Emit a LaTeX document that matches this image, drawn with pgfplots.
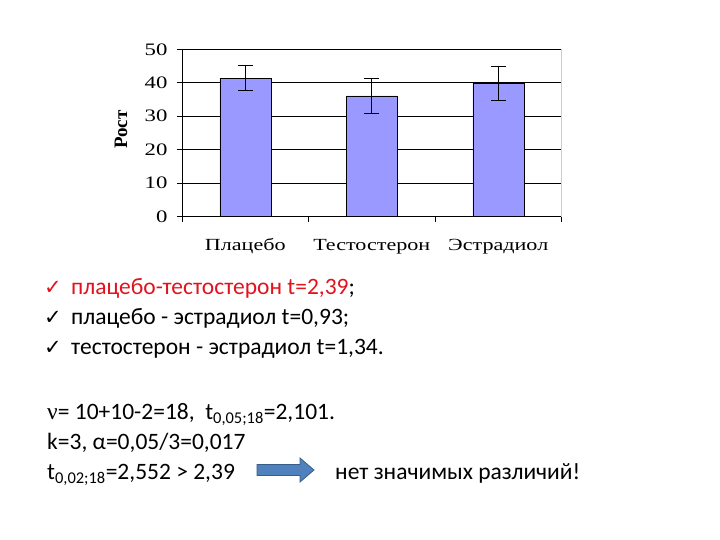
\documentclass[border=0pt]{standalone}
\usepackage{fontspec}
\setmainfont{Carlito}
\newfontfamily\tnr[FakeStretch=1.3]{Liberation Serif}
\newfontfamily\tnrb{Liberation Serif Bold}
\newfontfamily\tnrsym{Liberation Serif}
\newfontfamily\dejavu{DejaVu Sans}
\usepackage{pgfplots}
\pgfplotsset{compat=1.18}
\definecolor{barfill}{HTML}{9999FF}
\definecolor{txtred}{HTML}{E0141E}
\definecolor{arrowfill}{HTML}{4F81BD}
\definecolor{arrowline}{HTML}{385D8A}

\begin{document}
\begin{tikzpicture}[x=1pt,y=1pt]
\useasboundingbox (0pt,0pt) rectangle (720pt,540pt);
\fill[white] (0pt,0pt) rectangle (720pt,540pt);

\begin{axis}[
    at={(182pt,323.3pt)}, anchor=south west,
    scale only axis, width=379.5pt, height=167.4pt,
    xmin=-0.5, xmax=2.5, ymin=0, ymax=50,
    ytick={0,10,...,50},
    xtick={-0.5,0.5,1.5,2.5}, xticklabels={},
    extra x ticks={0,1,2},
    extra x tick labels={Плацебо,Тестостерон,Эстрадиол},
    extra x tick style={major tick length=0pt,
        ticklabel style={font=\tnr\fontsize{17}{20}\selectfont,
            text height=12pt, text depth=4pt, yshift=-18pt}},
    ymajorgrids, grid style={black, line width=0.6pt},
    axis x line*=bottom, axis y line*=left,
    axis line style={black, line width=0.6pt},
    tick style={black, line width=0.6pt},
    major tick length=5pt,
    xtick pos=bottom, ytick pos=left,
    tick align=outside,
    yticklabel style={font=\tnr\fontsize{17.5}{20}\selectfont, xshift=-6pt},
    /pgf/number format/assume math mode=true,
    clip=false,
]
\draw[gray!40] (axis cs:2.5,0) -- (axis cs:2.5,50);
\addplot[ybar, bar width=51pt, fill=barfill, draw=black, line width=0.5pt,
    error bars/.cd, y dir=both, y explicit,
    error bar style={black, line width=0.6pt},
    error mark options={rotate=90, mark size=7.5pt, black, line width=0.6pt}]
    coordinates {(0,41.4) +- (0,3.7) (1,36.1) +- (0,5.3) (2,39.9) +- (0,5.0)};
\node[rotate=90, inner sep=0pt, font=\tnrb\fontsize{19}{22}\selectfont]
    at (axis description cs:-0.161,0.52) {Рост};
\end{axis}

% text below the chart
\begin{scope}[every node/.style={anchor=base west, inner sep=0pt, font=\fontsize{23.5}{28}\selectfont}]
\node at (44pt,245pt) {\dejavu\bfseries\fontsize{21}{24}\selectfont\textcolor{txtred}{✓}};
\node at (71pt,245pt) {\textcolor{txtred}{плацебо-тестостерон t=2,39};};
\node at (44pt,215pt) {\dejavu\bfseries\fontsize{21}{24}\selectfont ✓};
\node at (71pt,215pt) {плацебо - эстрадиол t=0,93;};
\node at (44pt,185pt) {\dejavu\bfseries\fontsize{21}{24}\selectfont ✓};
\node at (71pt,185pt) {тестостерон - эстрадиол t=1,34.};
\node at (47pt,120pt) {{\tnrsym ν}= 10+10-2=18,\ \ t\textsubscript{0,05;18}=2,101.};
\node at (47pt,90pt) {k=3, α=0,05/3=0,017};
\node at (47pt,60pt) {t\textsubscript{0,02;18}=2,552 > 2,39};
\node at (335pt,60pt) {нет значимых различий!};
\end{scope}
% block arrow
\filldraw[fill=arrowfill, draw=arrowline, line width=0.8pt]
    (257pt,64.5pt) -- (300pt,64.5pt) -- (300pt,58pt) -- (314pt,70pt)
    -- (300pt,82pt) -- (300pt,75.5pt) -- (257pt,75.5pt) -- cycle;
\end{tikzpicture}
\end{document}
